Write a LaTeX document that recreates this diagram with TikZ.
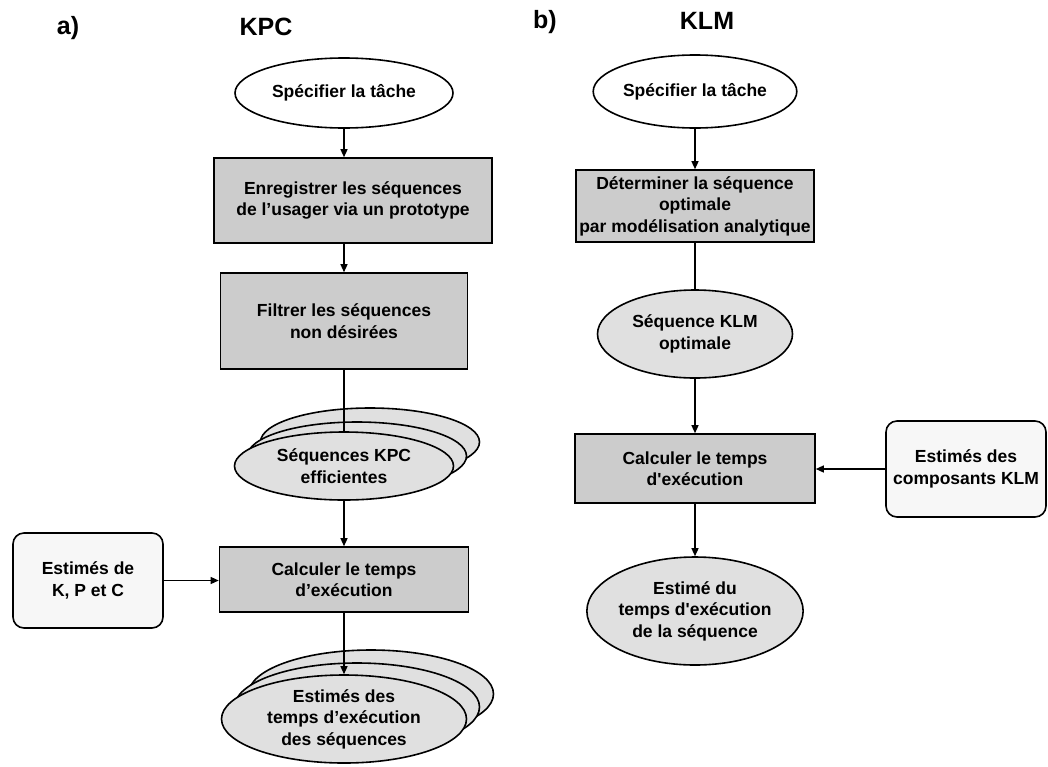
\documentclass[tikz,border=0pt]{standalone}
\usepackage{fontspec}
\setmainfont{Liberation Sans}
% same face without the TeX quote mapping, for straight apostrophes
\newfontfamily\plainface{Liberation Sans}
\newcommand{\sq}{{\plainface\bfseries '}}
\usetikzlibrary{shapes.geometric,arrows.meta}
\definecolor{boxgray}{gray}{0.80}
\definecolor{ovalgray}{gray}{0.88}
\definecolor{notewhite}{gray}{0.97}
\begin{document}
\begin{tikzpicture}[x=1pt,y=-1pt,
  lbl/.style={font=\fontsize{17.5}{21.5}\selectfont\bfseries, align=center, text=black},
  proc/.style={lbl, draw=black, line width=1.6pt, fill=boxgray, rectangle, inner sep=0pt},
  oval/.style={lbl, draw=black, line width=1.6pt, ellipse, inner sep=0pt},
  note/.style={lbl, draw=black, line width=1.6pt, fill=notewhite, rounded corners=11pt, inner sep=0pt},
  conn/.style={line width=1.3pt, draw=black},
  arr/.style={conn, -{Triangle[length=8pt,width=7pt]}},
  ttl/.style={font=\fontsize{25}{29}\selectfont\bfseries, inner sep=0pt}
]
\useasboundingbox (0,0) rectangle (1048,766);

% titles
\node[ttl] (ta) at (68,28) {a)};
\node[ttl] (tk) at (266,27) {KPC};
\node[ttl] (tb) at (545,22) {b)};
\node[ttl] (tl) at (707,21) {KLM};

% ---- a) KPC
\node[oval, fill=white, minimum width=218pt, minimum height=70pt] (a1) at (344,93) {Spécifier la tâche};
\node[proc, minimum width=278pt, minimum height=85pt] (a2) at (353,200.5) {Enregistrer les séquences\\de l’usager via un prototype};
\node[proc, minimum width=247pt, minimum height=96pt] (a3) at (344,321) {Filtrer les séquences\\non désirées};
\node[oval, fill=ovalgray, minimum width=219pt, minimum height=68pt] (a4c) at (370,442) {};
\node[oval, fill=ovalgray, minimum width=219pt, minimum height=68pt] (a4b) at (357,456) {};
\node[oval, fill=ovalgray, minimum width=219pt, minimum height=68pt] (a4) at (344,466) {Séquences KPC\\efficientes};
\node[proc, minimum width=249pt, minimum height=65pt] (a5) at (344,579.5) {Calculer le temps\\d’exécution};
\node[note, minimum width=150pt, minimum height=95pt] (a6) at (88,580.5) {Estimés de\\K, P et C};
\node[oval, fill=ovalgray, minimum width=245pt, minimum height=88pt] (a7c) at (371,694) {};
\node[oval, fill=ovalgray, minimum width=245pt, minimum height=88pt] (a7b) at (357,707) {};
\node[oval, fill=ovalgray, minimum width=245pt, minimum height=88pt] (a7) at (344,719) {Estimés des\\temps d’exécution\\des séquences};

\draw[arr] (a1.south) -- (a1.south |- a2.north);
\draw[arr] (a1.south |- a2.south) -- (a1.south |- a3.north);
\draw[conn] (a3.south) -- (a3.south |- a4.north);
\draw[arr] (a4.south) -- (a4.south |- a5.north);
\draw[arr] (a6.east) -- (a6.east -| a5.west);
\draw[arr] (a5.south) -- (a5.south |- a7.north);

% ---- b) KLM
\node[oval, fill=white, minimum width=198pt, minimum height=73pt] (b1) at (695,91.5) {Spécifier la tâche};
\node[proc, minimum width=238pt, minimum height=72pt] (b2) at (695,206) {Déterminer la séquence\\optimale\\par modélisation analytique};
\node[oval, fill=ovalgray, minimum width=195pt, minimum height=88pt] (b3) at (695,334) {Séquence KLM\\optimale};
\node[proc, minimum width=240pt, minimum height=69pt] (b4) at (695,468.5) {Calculer le temps\\d\sq exécution};
\node[note, minimum width=160pt, minimum height=96pt] (b5) at (966,469) {Estimés des\\composants KLM};
\node[oval, fill=ovalgray, minimum width=196pt, minimum height=108pt] (b6) at (695,611) {Estimé du\\temps d\sq exécution\\de la séquence};

\draw[arr] (b1.south) -- (b1.south |- b2.north);
\draw[conn] (b2.south) -- (b2.south |- b3.north);
\draw[arr] (b3.south) -- (b3.south |- b4.north);
\draw[arr] (b5.west) -- (b5.west -| b4.east);
\draw[arr] (b4.south) -- (b4.south |- b6.north);
\end{tikzpicture}
\end{document}
